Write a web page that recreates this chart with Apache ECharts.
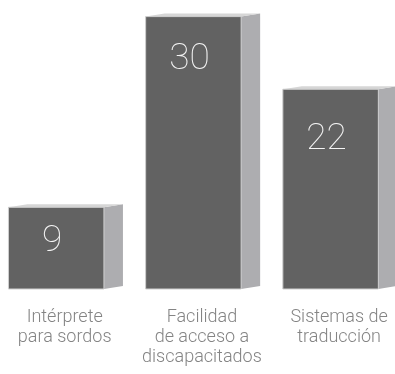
<!DOCTYPE html>
<html>
<head>
<meta charset="utf-8">
<script src="https://cdn.jsdelivr.net/npm/echarts@6/dist/echarts.min.js"></script>
<style>
  html, body { margin: 0; padding: 0; background: #ffffff; }
  #chart { width: 395px; height: 374px; }
</style>
</head>
<body>
<div id="chart"></div>
<script>
// Services offered, shown as extruded columns
const categories = [
  'Intérprete\npara sordos',
  'Facilidad\nde acceso a\ndiscapacitados',
  'Sistemas de\ntraducción'
];
const values = [9, 30, 22];
const yTicks = [0, 30];

// Colours of the three visible faces of each column
const FRONT = '#626262';
const SIDE = '#adadb0';
const TOP = '#d6d6d6';
const EDGE = '#cfcfcf';
const DEPTH_X = 19;
const DEPTH_Y = 3;
const FONT = 'Roboto';
// vertical position of each value label below the column top
const labelDrop = [34, 43, 51];

const chart = echarts.init(document.getElementById('chart'), null, { renderer: 'canvas' });

function renderColumn(params, api) {
  const idx = params.dataIndex;
  const base = api.coord([api.value(0), 0]);
  const top = api.coord([api.value(0), api.value(1)]);
  const w = api.size([1, 0])[0] * 0.696;
  const x0 = base[0] - w / 2;
  const x1 = base[0] + w / 2;
  const yT = top[1];
  const yB = base[1];
  return {
    type: 'group',
    children: [
      {
        type: 'polygon',
        shape: { points: [[x1, yT], [x1 + DEPTH_X, yT - DEPTH_Y], [x1 + DEPTH_X, yB - DEPTH_Y], [x1, yB]] },
        style: { fill: SIDE }
      },
      {
        type: 'polygon',
        shape: { points: [[x0, yT], [x0 + DEPTH_X, yT - DEPTH_Y], [x1 + DEPTH_X, yT - DEPTH_Y], [x1, yT]] },
        style: { fill: TOP }
      },
      {
        type: 'rect',
        shape: { x: x0, y: yT, width: w, height: yB - yT },
        style: { fill: FRONT, stroke: EDGE, lineWidth: 1 }
      },
      {
        type: 'text',
        x: base[0] - 4,
        y: yT + labelDrop[idx],
        style: {
          text: String(api.value(1)),
          fill: '#f4f4f4',
          fontFamily: FONT,
          fontWeight: 100,
          fontSize: 37,
          align: 'center',
          verticalAlign: 'middle'
        }
      }
    ]
  };
}

chart.setOption({
  animation: false,
  grid: {
    left: -12.4,
    top: 16.6,
    width: 411.6,
    height: 272.4,
    outerBoundsMode: 'none',
    containLabel: false
  },
  xAxis: {
    type: 'category',
    data: categories,
    axisLine: { show: false },
    axisTick: { show: false },
    splitLine: { show: false },
    axisLabel: {
      interval: 0,
      margin: 18,
      padding: [0, 0, 0, 17],
      fontFamily: FONT,
      fontWeight: 300,
      fontSize: 18,
      lineHeight: 20,
      color: '#848484',
      align: 'center'
    }
  },
  yAxis: {
    type: 'value',
    min: yTicks[0],
    max: yTicks[1],
    show: false,
    splitLine: { show: false }
  },
  series: [{
    type: 'custom',
    renderItem: renderColumn,
    data: values.map((v, i) => [i, v]),
    encode: { x: 0, y: 1 }
  }]
});
</script>
</body>
</html>
